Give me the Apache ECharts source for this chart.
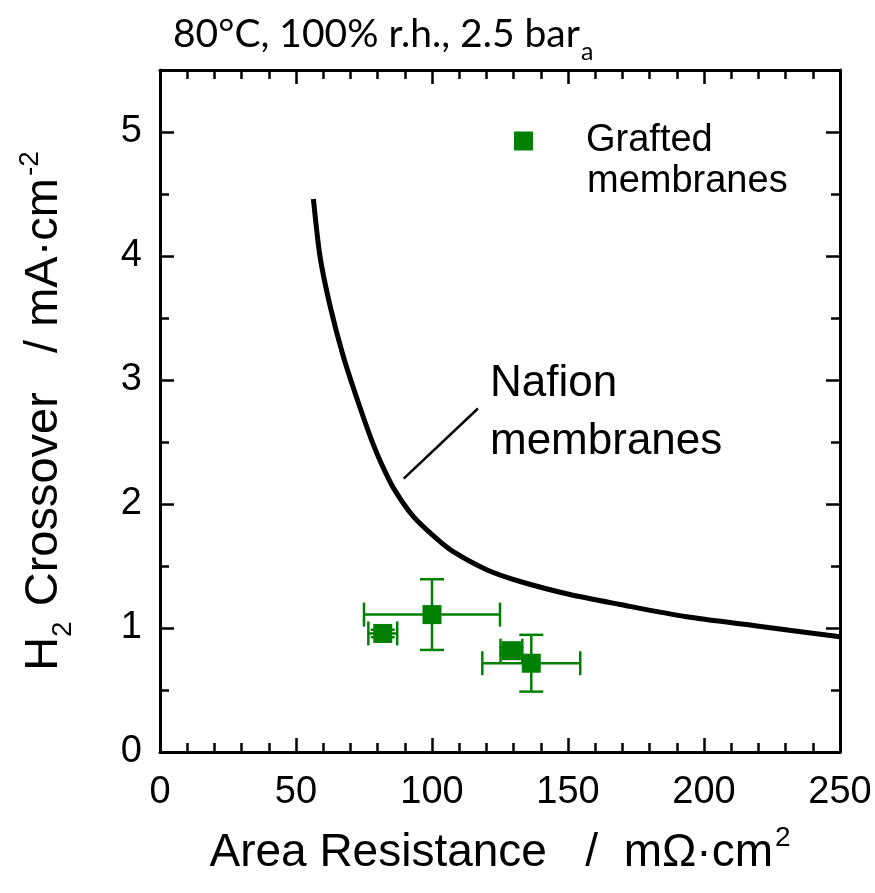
<!DOCTYPE html>
<html>
<head>
<meta charset="utf-8">
<script src="https://cdn.jsdelivr.net/npm/echarts@6/dist/echarts.min.js"></script>
<style>
  html, body { margin: 0; padding: 0; background: #fff; }
  #chart { width: 875px; height: 893px; }
</style>
</head>
<body>
<div id="chart"></div>
<script>
// Nafion reference curve
const nafionX = [56.4, 58.8, 62.5, 67.4, 73.5, 78.4, 81.5, 85.8, 93.1, 101.7, 107.8, 120.1, 132.4, 150.7, 169.1, 193.6, 218.1, 250];
const nafionY = [4.46, 4.00, 3.60, 3.19, 2.78, 2.48, 2.32, 2.13, 1.90, 1.72, 1.615, 1.47, 1.375, 1.27, 1.19, 1.09, 1.02, 0.93];

// grafted membranes, with error bars
const graftX = [81.9, 100, 129.2, 136.5];
const graftY = [0.956, 1.108, 0.817, 0.716];
const graftXErr = [5.3, 25, 4, 18];
const graftYErr = [0.03, 0.285, 0.03, 0.229];

// pointer line for the Nafion label
const pointerLine = [[89.6, 2.205], [116.9, 2.77]];

const xTicks = [0, 50, 100, 150, 200, 250];
const yTicks = [0, 1, 2, 3, 4, 5];

const GREEN = "#008000";
const sans = "'Liberation Sans', Arial, sans-serif";
const calib = "Lato, 'Open Sans', sans-serif";

const chart = echarts.init(document.getElementById("chart"));

const curveData = nafionX.map((x, i) => [x, nafionY[i]]);
const graftData = graftX.map((x, i) => [x, graftY[i]]);
const errData = graftX.map((x, i) => [x, graftY[i], graftXErr[i], graftYErr[i]]);

function renderErr(params, api) {
  const x = api.value(0), y = api.value(1);
  const xe = api.value(2), ye = api.value(3);
  const c = api.coord([x, y]);
  const l = api.coord([x - xe, y]);
  const r = api.coord([x + xe, y]);
  const t = api.coord([x, y + ye]);
  const b = api.coord([x, y - ye]);
  const cap = 12;
  const st = { stroke: GREEN, lineWidth: 2.5 };
  const line = (x1, y1, x2, y2) => ({ type: "line", shape: { x1, y1, x2, y2 }, style: st });
  return {
    type: "group",
    children: [
      line(l[0], c[1], r[0], c[1]),
      line(c[0], t[1], c[0], b[1]),
      line(l[0], c[1] - cap, l[0], c[1] + cap),
      line(r[0], c[1] - cap, r[0], c[1] + cap),
      line(c[0] - cap, t[1], c[0] + cap, t[1]),
      line(c[0] - cap, b[1], c[0] + cap, b[1])
    ]
  };
}

const axisLine = { show: true, onZero: false, lineStyle: { color: "#000", width: 3 } };
const tick = { show: true, inside: true, length: 14, lineStyle: { color: "#000", width: 2.5 } };
const minor = { show: true, length: 9, lineStyle: { color: "#000", width: 2.5 } };

chart.setOption({
  animation: false,
  backgroundColor: "#fff",
  title: {
    text: "{a|80°C, 100% r.h., 2.5 bar}{s|a}",
    left: 168,
    top: 10,
    textStyle: {
      fontWeight: "normal",
      rich: {
        a: { fontFamily: calib, fontWeight: "normal", fontSize: 39, color: "#000", verticalAlign: "bottom" },
        s: { fontFamily: calib, fontWeight: "normal", fontSize: 25, color: "#000", verticalAlign: "bottom", padding: [0, 0, -10, 1] }
      }
    }
  },
  legend: {
    data: ["Grafted"],
    left: 509,
    top: 117,
    icon: "rect",
    itemWidth: 19,
    itemHeight: 19,
    selectedMode: false,
    textStyle: { fontFamily: sans, fontSize: 38, color: "#000", padding: [0, 0, 0, 48] }
  },
  grid: { left: 160, right: 35, top: 70, bottom: 141 },
  xAxis: [
    {
      type: "value",
      min: xTicks[0],
      max: xTicks[xTicks.length - 1],
      interval: 50,
      position: "bottom",
      axisLine: axisLine,
      axisTick: tick,
      minorTick: Object.assign({ splitNumber: 5 }, minor),
      splitLine: { show: false },
      axisLabel: { fontFamily: sans, fontSize: 38, color: "#000", margin: 22 },
      name: "{n|Area Resistance   /  mΩ·cm}{p|2}",
      nameLocation: "middle",
      nameGap: 72,
      nameTextStyle: {
        rich: {
          n: { fontFamily: sans, fontSize: 46, color: "#000", verticalAlign: "bottom" },
          p: { fontFamily: sans, fontSize: 28, color: "#000", verticalAlign: "bottom", padding: [0, 0, 24, 2] }
        }
      }
    },
    {
      type: "value",
      min: xTicks[0],
      max: xTicks[xTicks.length - 1],
      interval: 50,
      position: "top",
      axisLine: axisLine,
      axisTick: tick,
      minorTick: Object.assign({ splitNumber: 5 }, minor),
      splitLine: { show: false },
      axisLabel: { show: false }
    }
  ],
  yAxis: [
    {
      type: "value",
      min: yTicks[0],
      max: 5.5,
      interval: 1,
      position: "left",
      axisLine: axisLine,
      axisTick: tick,
      minorTick: Object.assign({ splitNumber: 2 }, minor),
      splitLine: { show: false },
      axisLabel: {
        fontFamily: sans, fontSize: 38, color: "#000", margin: 18,
        formatter: v => (yTicks.indexOf(v) >= 0 ? String(v) : "")
      },
      name: "{n|H}{b|2}{n| Crossover   / mA·cm}{p|-2}",
      nameLocation: "middle",
      nameGap: 92,
      nameTextStyle: {
        rich: {
          n: { fontFamily: sans, fontSize: 47, color: "#000", verticalAlign: "bottom" },
          b: { fontFamily: sans, fontSize: 28, color: "#000", verticalAlign: "bottom", padding: [0, 2, -9, 0] },
          p: { fontFamily: sans, fontSize: 28, color: "#000", verticalAlign: "bottom", padding: [0, 0, 24, 2] }
        }
      }
    },
    {
      type: "value",
      min: yTicks[0],
      max: 5.5,
      interval: 1,
      position: "right",
      axisLine: axisLine,
      axisTick: tick,
      minorTick: Object.assign({ splitNumber: 2 }, minor),
      splitLine: { show: false },
      axisLabel: { show: false }
    }
  ],
  graphic: [
    { type: "text", left: 587, top: 163, style: { text: "membranes", font: "38px " + sans, fill: "#000" } },
    { type: "text", left: 490, top: 362, style: { text: "Nafion", font: "44px " + sans, fill: "#000" } },
    { type: "text", left: 490, top: 420, style: { text: "membranes", font: "44px " + sans, fill: "#000" } }
  ],
  series: [
    {
      name: "Nafion",
      type: "line",
      data: curveData,
      showSymbol: false,
      smooth: 0.25,
      lineStyle: { color: "#000", width: 5 },
      z: 3
    },
    {
      name: "pointer",
      type: "line",
      data: pointerLine,
      showSymbol: false,
      lineStyle: { color: "#000", width: 2.5 },
      z: 3
    },
    {
      name: "err",
      type: "custom",
      renderItem: renderErr,
      data: errData,
      encode: { x: 0, y: 1 },
      z: 4
    },
    {
      name: "Grafted",
      type: "scatter",
      data: graftData,
      symbol: "rect",
      symbolSize: 19,
      itemStyle: { color: GREEN, opacity: 1 },
      z: 5
    }
  ]
});
</script>
</body>
</html>
